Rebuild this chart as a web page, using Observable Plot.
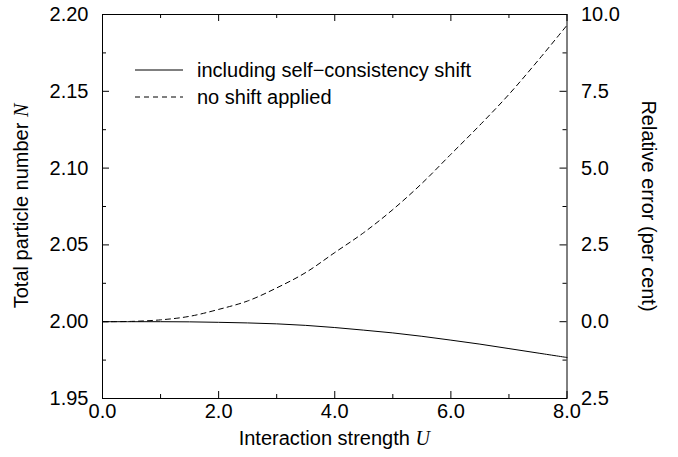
<!DOCTYPE html>
<html><head><meta charset="utf-8">
<script src="https://cdn.jsdelivr.net/npm/d3@7"></script>
<script src="https://cdn.jsdelivr.net/npm/@observablehq/plot@0.6"></script>
<style>body{margin:0;background:#fff} #chart{position:relative;width:678px;height:457px}</style>
</head><body><div id="chart"></div>
<script>
const U = [0, 0.5, 1, 1.5, 2, 2.5, 3, 3.5, 4, 4.5, 5, 5.5, 6, 6.5, 7, 7.5, 8];
const nSelf = [2.0000, 2.0000, 2.0000, 1.9999, 1.9996, 1.9992, 1.9986, 1.9976, 1.9962, 1.9945, 1.9927, 1.9905, 1.9880, 1.9854, 1.9825, 1.9796, 1.9767];
const nNoShift = [2.0000, 2.0002, 2.0012, 2.0035, 2.0080, 2.0135, 2.0220, 2.0320, 2.0450, 2.0580, 2.0730, 2.0900, 2.1090, 2.1280, 2.1480, 2.1700, 2.1930];
const xMajor = [0, 2, 4, 6, 8];
const xMinor = [1, 3, 5, 7];
const yMajor = [1.95, 2.00, 2.05, 2.10, 2.15, 2.20];
const yMinor = [1.975, 2.025, 2.075, 2.125, 2.175];
const rightTickLabels = ["2.5", "0.0", "2.5", "5.0", "7.5", "10.0"];
const seriesNames = ["including self\u2212consistency shift", "no shift applied"];
const seriesDash = [null, "5,4"];

const font = "'Liberation Sans', Arial, Helvetica, sans-serif";
const serif = "'Liberation Serif', 'Times New Roman', serif";
const fs = 20;

const W = 678, H = 457, mL = 102, mR = 111.5, mT = 14, mB = 59;
const fw = W - mL - mR, fh = H - mT - mB;
const major = 7, minor = 4;

const selfData = U.map((u, i) => ({U: u, N: nSelf[i]}));
const noShiftData = U.map((u, i) => ({U: u, N: nNoShift[i]}));

function ticksY(vals, len) {
  return [
    Plot.tickY(vals, {y: d => d, stroke: "black", strokeWidth: 1, insetRight: fw - len}),
    Plot.tickY(vals, {y: d => d, stroke: "black", strokeWidth: 1, insetLeft: fw - len})
  ];
}
function ticksX(vals, len) {
  return [
    Plot.tickX(vals, {x: d => d, stroke: "black", strokeWidth: 1, insetTop: fh - len}),
    Plot.tickX(vals, {x: d => d, stroke: "black", strokeWidth: 1, insetBottom: fh - len})
  ];
}

const plot = Plot.plot({
  width: W, height: H,
  marginLeft: mL, marginRight: mR, marginTop: mT, marginBottom: mB,
  style: {fontFamily: font, fontSize: fs + "px", background: "white", color: "black"},
  x: {domain: [0, 8], axis: null},
  y: {domain: [1.95, 2.2], axis: null},
  marks: [
    Plot.line(selfData, {x: "U", y: "N", stroke: "black", strokeWidth: 1, curve: "catmull-rom"}),
    Plot.line(noShiftData, {x: "U", y: "N", stroke: "black", strokeWidth: 1, strokeDasharray: seriesDash[1], curve: "catmull-rom"}),
    ...ticksY(yMajor, major),
    ...ticksY(yMinor, minor),
    ...ticksX(xMajor, major),
    ...ticksX(xMinor, minor),
    Plot.text(xMajor, {x: d => d, text: d => d.toFixed(1), frameAnchor: "bottom", dy: 19, fill: "black", fontSize: fs}),
    Plot.text(yMajor, {y: d => d, text: d => d.toFixed(2), frameAnchor: "left", dx: -14, textAnchor: "end", fill: "black", fontSize: fs}),
    Plot.text(yMajor, {y: d => d, text: (d, i) => rightTickLabels[i], frameAnchor: "right", dx: 14, textAnchor: "start", fill: "black", fontSize: fs}),
    Plot.frame({stroke: "black", strokeWidth: 1})
  ]
});

const svg = d3.select(plot);
function mkText(x, y, rot, parts) {
  const t = svg.append("text")
    .attr("transform", `translate(${x},${y}) rotate(${rot})`)
    .attr("text-anchor", "middle")
    .attr("font-family", font)
    .attr("font-size", fs)
    .attr("fill", "black")
    .style("white-space", "pre");
  parts.forEach(([s, it]) => {
    const sp = t.append("tspan").text(s);
    if (it) sp.attr("font-family", serif).attr("font-style", "italic");
  });
}
mkText(mL + fw / 2, 445, 0, [["Interaction strength ", false], ["U", true]]);
mkText(28, mT + fh / 2, -90, [["Total particle number ", false], ["N", true]]);
mkText(642, mT + fh / 2, 90, [["Relative error (per cent)", false]]);

// legend
const legRows = [70, 97];
seriesNames.forEach((name, i) => {
  const ln = svg.append("line")
    .attr("x1", 135).attr("x2", 183).attr("y1", legRows[i]).attr("y2", legRows[i])
    .attr("stroke", "black").attr("stroke-width", 1);
  if (seriesDash[i]) ln.attr("stroke-dasharray", seriesDash[i]);
  svg.append("text")
    .attr("x", 197).attr("y", legRows[i]).attr("dy", "0.35em")
    .attr("text-anchor", "start")
    .attr("font-family", font).attr("font-size", fs).attr("fill", "black")
    .text(name);
});

document.getElementById("chart").appendChild(plot);
</script>
</body></html>
